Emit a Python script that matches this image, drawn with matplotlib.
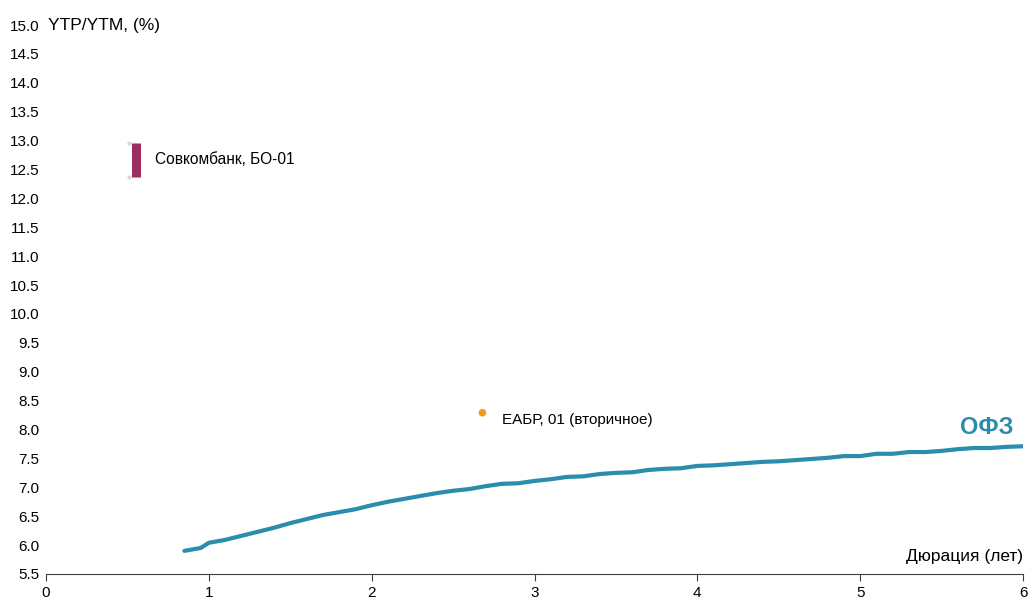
import matplotlib.pyplot as plt

# ОФЗ curve
ofz_dur = [0.85, 0.95, 1.0, 1.1, 1.2, 1.3, 1.4, 1.5, 1.6, 1.7, 1.8, 1.9,
           2.0, 2.1, 2.2, 2.3, 2.4, 2.5, 2.6, 2.7, 2.8, 2.9,
           3.0, 3.1, 3.2, 3.3, 3.4, 3.5, 3.6, 3.7, 3.8, 3.9,
           4.0, 4.1, 4.2, 4.3, 4.4, 4.5, 4.6, 4.7, 4.8, 4.9,
           5.0, 5.1, 5.2, 5.3, 5.4, 5.5, 5.6, 5.7, 5.8, 5.9, 6.0]
ofz_yield = [5.90, 5.95, 6.04, 6.09, 6.16, 6.23, 6.30, 6.38, 6.45, 6.52, 6.57, 6.62,
             6.69, 6.75, 6.80, 6.85, 6.90, 6.94, 6.97, 7.02, 7.06, 7.07,
             7.11, 7.14, 7.18, 7.19, 7.23, 7.25, 7.26, 7.30, 7.32, 7.33,
             7.37, 7.38, 7.40, 7.42, 7.44, 7.45, 7.47, 7.49, 7.51, 7.54,
             7.54, 7.58, 7.58, 7.61, 7.61, 7.63, 7.66, 7.68, 7.68, 7.70, 7.71]

# Совкомбанк: yield range
sovcom_dur = 0.55
sovcom_low = 12.37
sovcom_high = 12.96

# ЕАБР
eabr_dur = 2.68
eabr_yield = 8.29

y_ticks = [5.5 + 0.5 * i for i in range(20)]
x_ticks = [0, 1, 2, 3, 4, 5, 6]

plt.rcParams['font.family'] = ['Liberation Sans', 'DejaVu Sans']

fig = plt.figure(figsize=(10.29, 6.04), dpi=100)
ax = fig.add_axes([0.0447, 0.0497, 0.9495, 0.9089])

teal = '#2a8dab'
ax.plot(ofz_dur, ofz_yield, color=teal, lw=3.0,
        solid_joinstyle='round', solid_capstyle='round')

ax.vlines(sovcom_dur, sovcom_low, sovcom_high, color='#9b2d5f', lw=6.5)
ax.scatter([sovcom_dur - 0.04] * 2, [sovcom_low, sovcom_high], s=4,
           color='#d8d8d8', zorder=3)
ax.text(0.67, 12.68, 'Совкомбанк, БО-01', fontsize=11.2, va='center', ha='left')

ax.scatter([eabr_dur], [eabr_yield], s=30, color='#f39a1e', zorder=3,
           edgecolors='none')
ax.text(2.80, 8.16, 'ЕАБР, 01 (вторичное)', fontsize=11, va='center', ha='left')

ax.text(5.94, 8.03, 'ОФЗ', fontsize=17, fontweight='bold', color=teal,
        ha='right', va='center')

ax.set_xlim(0, 6)
ax.set_ylim(5.5, 15.0)
ax.set_xticks(x_ticks)
ax.set_xticklabels([str(t) for t in x_ticks], fontsize=11)
ax.set_yticks(y_ticks)
ax.set_yticklabels([f'{t:.1f}' for t in y_ticks], fontsize=11)

for s in ['top', 'right', 'left']:
    ax.spines[s].set_visible(False)
ax.spines['bottom'].set_color('#404040')
ax.tick_params(axis='y', length=0, pad=5)
ax.tick_params(axis='x', length=5, direction='out', color='#404040', pad=4)

ax.text(0.002, 1.0, 'YTP/YTM, (%)', transform=ax.transAxes, fontsize=12.5,
        ha='left', va='center')
ax.text(1.0, 0.018, 'Дюрация (лет)', transform=ax.transAxes, fontsize=12.5,
        ha='right', va='bottom')

fig.savefig('out.png', dpi=100)
